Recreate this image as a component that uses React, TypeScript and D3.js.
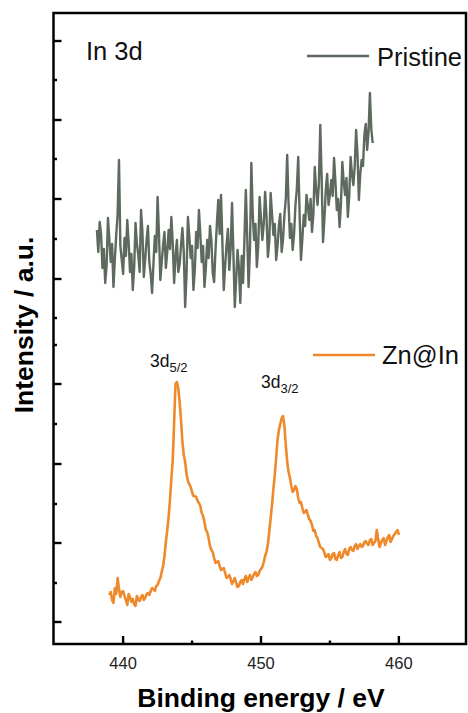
import React from "react";
import * as d3 from "d3";

// Pristine (grey) spectrum
const pristineEnergy = [
  438.1, 438.2, 438.3, 438.4, 438.5, 438.6, 438.7, 438.8, 438.9, 439.0, 439.1, 439.2, 439.3, 439.4, 439.5, 439.6, 439.7, 439.8, 439.9, 440.0,
  440.1, 440.2, 440.3, 440.4, 440.5, 440.6, 440.7, 440.8, 440.9, 441.0, 441.1, 441.2, 441.3, 441.4, 441.5, 441.6, 441.7, 441.8, 441.9, 442.0,
  442.1, 442.2, 442.3, 442.4, 442.5, 442.6, 442.7, 442.8, 442.9, 443.0, 443.1, 443.2, 443.3, 443.4, 443.5, 443.6, 443.7, 443.8, 443.9, 444.0,
  444.1, 444.2, 444.3, 444.4, 444.5, 444.6, 444.7, 444.8, 444.9, 445.0, 445.1, 445.2, 445.3, 445.4, 445.5, 445.6, 445.7, 445.8, 445.9, 446.0,
  446.1, 446.2, 446.3, 446.4, 446.5, 446.6, 446.7, 446.8, 446.9, 447.0, 447.1, 447.2, 447.3, 447.4, 447.5, 447.6, 447.7, 447.8, 447.9, 448.0,
  448.1, 448.2, 448.3, 448.4, 448.5, 448.6, 448.7, 448.8, 448.9, 449.0, 449.1, 449.2, 449.3, 449.4, 449.5, 449.6, 449.7, 449.8, 449.9, 450.0,
  450.1, 450.2, 450.3, 450.4, 450.5, 450.6, 450.7, 450.8, 450.9, 451.0, 451.1, 451.2, 451.3, 451.4, 451.5, 451.6, 451.7, 451.8, 451.9, 452.0,
  452.1, 452.2, 452.3, 452.4, 452.5, 452.6, 452.7, 452.8, 452.9, 453.0, 453.1, 453.2, 453.3, 453.4, 453.5, 453.6, 453.7, 453.8, 453.9, 454.0,
  454.1, 454.2, 454.3, 454.4, 454.5, 454.6, 454.7, 454.8, 454.9, 455.0, 455.1, 455.2, 455.3, 455.4, 455.5, 455.6, 455.7, 455.8, 455.9, 456.0,
  456.1, 456.2, 456.3, 456.4, 456.5, 456.6, 456.7, 456.8, 456.9, 457.0, 457.1, 457.2, 457.3, 457.4, 457.5, 457.6, 457.7, 457.8, 457.9, 458.0,
  458.1,
];
const pristineIntensity = [
  414, 392, 422, 410, 376, 395, 361, 378, 426, 405, 382, 400, 357, 385, 409, 430, 484, 398, 384, 370,
  406, 388, 424, 402, 372, 390, 354, 376, 421, 400, 389, 372, 434, 412, 367, 384, 404, 418, 382, 370,
  351, 380, 408, 392, 447, 410, 364, 382, 399, 412, 376, 392, 414, 395, 427, 400, 361, 388, 404, 372,
  380, 398, 416, 392, 337, 370, 427, 408, 386, 398, 354, 374, 412, 396, 434, 410, 382, 398, 357, 376,
  404, 386, 418, 404, 371, 362, 394, 420, 444, 410, 449, 402, 354, 378, 399, 415, 374, 396, 441, 390,
  337, 365, 394, 376, 341, 388, 361, 405, 454, 408, 357, 395, 481, 430, 404, 420, 377, 398, 447, 425,
  404, 420, 452, 428, 387, 402, 451, 430, 409, 420, 384, 398, 419, 430, 392, 405, 429, 445, 489, 440,
  406, 420, 394, 410, 439, 455, 487, 430, 384, 405, 429, 418, 449, 438, 424, 445, 412, 430, 477, 455,
  439, 460, 519, 465, 402, 425, 454, 470, 439, 450, 464, 448, 486, 462, 434, 445, 417, 440, 482, 462,
  449, 466, 427, 448, 487, 470, 459, 478, 514, 490, 444, 470, 484, 478, 509, 520, 494, 512, 551, 515,
  501,
];

// Zn@In (orange) spectrum
const znEnergy = [
  439.0, 439.1, 439.2, 439.3, 439.4, 439.5, 439.6, 439.7, 439.8, 439.9, 440.0, 440.1, 440.2, 440.3, 440.4, 440.5, 440.6, 440.7, 440.8, 440.9,
  441.0, 441.1, 441.2, 441.3, 441.4, 441.5, 441.6, 441.7, 441.8, 441.9, 442.0, 442.1, 442.2, 442.3, 442.4, 442.5, 442.6, 442.7, 442.8, 442.9,
  443.0, 443.1, 443.2, 443.3, 443.4, 443.5, 443.6, 443.7, 443.8, 443.9, 444.0, 444.1, 444.2, 444.3, 444.4, 444.5, 444.6, 444.7, 444.8, 444.9,
  445.0, 445.1, 445.2, 445.3, 445.4, 445.5, 445.6, 445.7, 445.8, 445.9, 446.0, 446.1, 446.2, 446.3, 446.4, 446.5, 446.6, 446.7, 446.8, 446.9,
  447.0, 447.1, 447.2, 447.3, 447.4, 447.5, 447.6, 447.7, 447.8, 447.9, 448.0, 448.1, 448.2, 448.3, 448.4, 448.5, 448.6, 448.7, 448.8, 448.9,
  449.0, 449.1, 449.2, 449.3, 449.4, 449.5, 449.6, 449.7, 449.8, 449.9, 450.0, 450.1, 450.2, 450.3, 450.4, 450.5, 450.6, 450.7, 450.8, 450.9,
  451.0, 451.1, 451.2, 451.3, 451.4, 451.5, 451.6, 451.7, 451.8, 451.9, 452.0, 452.1, 452.2, 452.3, 452.4, 452.5, 452.6, 452.7, 452.8, 452.9,
  453.0, 453.1, 453.2, 453.3, 453.4, 453.5, 453.6, 453.7, 453.8, 453.9, 454.0, 454.1, 454.2, 454.3, 454.4, 454.5, 454.6, 454.7, 454.8, 454.9,
  455.0, 455.1, 455.2, 455.3, 455.4, 455.5, 455.6, 455.7, 455.8, 455.9, 456.0, 456.1, 456.2, 456.3, 456.4, 456.5, 456.6, 456.7, 456.8, 456.9,
  457.0, 457.1, 457.2, 457.3, 457.4, 457.5, 457.6, 457.7, 457.8, 457.9, 458.0, 458.1, 458.2, 458.3, 458.4, 458.5, 458.6, 458.7, 458.8, 458.9,
  459.0, 459.1, 459.2, 459.3, 459.4, 459.5, 459.6, 459.7, 459.8, 459.9, 460.0,
];
const znIntensity = [
  49, 52, 44, 41, 56, 50, 66, 55, 47, 52, 53, 48, 44, 39, 50, 47, 42, 45, 40, 38,
  48, 44, 43, 47, 49, 44, 46, 50, 51, 49, 53, 56, 55, 53, 58, 59, 63, 66, 72, 78,
  88, 102, 114, 127, 144, 166, 184, 222, 260, 262, 256, 242, 224, 202, 189, 182, 170, 163, 160, 157,
  152, 148, 148, 147, 143, 141, 138, 131, 128, 122, 114, 112, 106, 98, 94, 92, 86, 81, 82, 83,
  78, 74, 75, 76, 71, 66, 67, 69, 65, 60, 63, 66, 61, 57, 58, 62, 64, 60, 65, 68,
  62, 66, 69, 64, 67, 70, 72, 68, 69, 73, 75, 77, 82, 88, 92, 100, 112, 126, 139, 155,
  169, 186, 204, 214, 220, 226, 228, 218, 199, 182, 172, 166, 158, 152, 154, 158, 155, 146, 141, 142,
  136, 131, 132, 134, 129, 125, 123, 119, 113, 114, 108, 106, 101, 97, 96, 95, 91, 87, 88, 90,
  84, 86, 90, 91, 85, 84, 89, 92, 86, 87, 92, 95, 90, 89, 95, 97, 94, 93, 98, 100,
  95, 98, 100, 97, 98, 102, 103, 100, 99, 104, 105, 99, 101, 103, 114, 105, 97, 101, 104, 106,
  99, 103, 107, 109, 102, 105, 108, 110, 112, 114, 109,
];

const xMajorTicks = [440, 450, 460];
const xMinorTicks = [445, 455];
const yMajorTicks = [22, 101, 180, 260, 365, 445, 524, 603];
const yMinorTicks = [61, 140, 220, 299, 326, 405, 485, 564];

const FONT = "'Liberation Sans', Arial, Helvetica, sans-serif";
const GREY = "#5f6a5f";
const ORANGE = "#ef8a2c";

export default function App() {
  const left = 53.5, right = 466, top = 13, bottom = 644;
  const x = d3.scaleLinear().domain([434.95, 464.87]).range([left, right]);
  const y = d3.scaleLinear().domain([0, 631]).range([bottom, top]);

  const line = d3
    .line<[number, number]>()
    .x((d) => x(d[0]))
    .y((d) => y(d[1]));

  const pristine = pristineEnergy.map((e, i) => [e, pristineIntensity[i]] as [number, number]);
  const zn = znEnergy.map((e, i) => [e, znIntensity[i]] as [number, number]);

  return (
    <svg
      width={468}
      height={713}
      style={{ position: "absolute", left: 0, top: 0, background: "#fff" }}
      fontFamily={FONT}
    >
      <rect x={0} y={0} width={468} height={713} fill="#fff" />
      <path d={line(pristine) || ""} fill="none" stroke={GREY} strokeWidth={2.4} strokeLinejoin="round" />
      <path d={line(zn) || ""} fill="none" stroke={ORANGE} strokeWidth={2.6} strokeLinejoin="round" />

      {/* frame */}
      <rect x={left} y={top} width={right - left} height={bottom - top} fill="none" stroke="#000" strokeWidth={2.5} />

      {/* x ticks */}
      {xMajorTicks.map((t) => (
        <g key={"xm" + t}>
          <line x1={x(t)} x2={x(t)} y1={bottom} y2={bottom - 8} stroke="#000" strokeWidth={2.4} />
          <text x={x(t)} y={669} textAnchor="middle" fontSize={16.5} fill="#222">
            {t}
          </text>
        </g>
      ))}
      {xMinorTicks.map((t) => (
        <line key={"xn" + t} x1={x(t)} x2={x(t)} y1={bottom} y2={bottom - 3.5} stroke="#000" strokeWidth={2.4} />
      ))}
      {yMajorTicks.map((t) => (
        <line key={"ym" + t} x1={left} x2={left + 8} y1={y(t)} y2={y(t)} stroke="#000" strokeWidth={2.4} />
      ))}
      {yMinorTicks.map((t) => (
        <line key={"yn" + t} x1={left} x2={left + 3.5} y1={y(t)} y2={y(t)} stroke="#000" strokeWidth={2.4} />
      ))}

      {/* axis labels */}
      <text x={261} y={707} textAnchor="middle" fontSize={26.5} fontWeight="bold" fill="#000">
        Binding energy / eV
      </text>
      <text
        transform="translate(33,325) rotate(-90)"
        textAnchor="middle"
        fontSize={26.5}
        fontWeight="bold"
        fill="#000"
      >
        Intensity / a.u.
      </text>

      {/* panel label */}
      <text x={86} y={60} fontSize={25.5} fill="#111">
        In 3d
      </text>

      {/* legend */}
      <line x1={307} x2={369} y1={56} y2={56} stroke={GREY} strokeWidth={2.6} />
      <text x={377} y={66} fontSize={25.5} fill="#111">
        Pristine
      </text>
      <line x1={313} x2={375} y1={355} y2={355} stroke={ORANGE} strokeWidth={2.6} />
      <text x={382} y={364} fontSize={25.5} fill="#111">
        Zn@In
      </text>

      {/* peak annotations */}
      <text x={150} y={367} fontSize={17.5} fill="#111">
        3d
        <tspan fontSize={13} dy={5}>
          5/2
        </tspan>
      </text>
      <text x={261} y={388} fontSize={17.5} fill="#111">
        3d
        <tspan fontSize={13} dy={5}>
          3/2
        </tspan>
      </text>
    </svg>
  );
}
